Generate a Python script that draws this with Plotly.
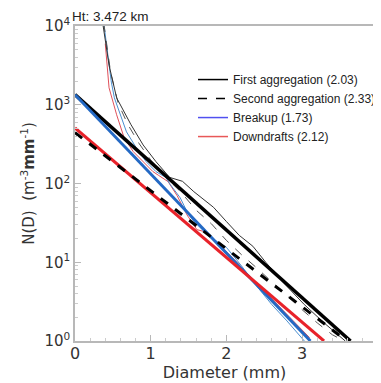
import plotly.graph_objects as go

# ---- data (diameter in mm, N(D) in m^-3 mm^-1) ----
fit_first_d = [0.0, 3.64]
fit_first_n = [1350, 1.0]
fit_second_d = [0.0, 3.59]
fit_second_n = [445, 1.0]
fit_breakup_d = [0.0, 3.11]
fit_breakup_n = [1350, 1.0]
fit_down_d = [0.0, 3.29]
fit_down_n = [510, 1.0]

obs_first_d = [0.36, 0.45, 0.55, 0.65, 0.74, 0.90, 1.07, 1.25, 1.42, 1.57, 1.83, 2.0, 2.17, 2.35, 2.52, 2.77, 3.03, 3.29, 3.57]
obs_first_n = [12000, 3200, 1230, 810, 560, 310, 190, 120, 107, 79, 50, 33, 22, 16, 10, 5.3, 2.9, 1.7, 1.0]

obs_second_d = [0.38, 0.47, 0.57, 0.70, 0.85, 1.0, 1.2, 1.4, 1.6, 1.8, 2.0, 2.2, 2.4, 2.6, 2.8, 3.0, 3.2, 3.4, 3.6]
obs_second_n = [11000, 2600, 1050, 560, 320, 200, 120, 78, 46, 31, 19, 12.5, 8.5, 5.6, 3.7, 2.5, 1.7, 1.2, 0.95]

obs_break_d = [0.38, 0.48, 0.52, 0.68, 0.81, 0.94, 1.07, 1.20, 1.26, 1.39, 1.48, 1.57, 1.70, 1.87, 2.0, 2.2, 2.4, 2.6, 2.8, 3.03]
obs_break_n = [11000, 1950, 1230, 455, 285, 190, 142, 120, 97, 66, 44, 33, 25, 18.5, 15.5, 9.0, 5.0, 2.9, 1.8, 1.0]

obs_down_d = [0.40, 0.45, 0.55, 0.65, 0.77, 0.90, 1.03, 1.10, 1.23, 1.35, 1.48, 1.61, 1.75, 1.9, 2.1, 2.3, 2.5, 2.7, 2.9, 3.1]
obs_down_n = [6000, 1650, 750, 380, 255, 190, 142, 128, 106, 70, 40, 26, 24, 17, 11, 6.8, 4.3, 2.7, 1.7, 1.1]

y_tick_vals = [1, 10, 100, 1000, 10000]
y_tick_text = ["10<sup>0</sup>", "10<sup>1</sup>", "10<sup>2</sup>", "10<sup>3</sup>", "10<sup>4</sup>"]
x_tick_vals = [0, 1, 2, 3]
x_tick_text = ["0", "1", "2", "3"]

legend_labels = ["First aggregation (2.03)", "Second aggregation (2.33)",
                 "Breakup (1.73)", "Downdrafts (2.12)"]

fig = go.Figure()

# observed (thin) lines
fig.add_trace(go.Scatter(x=obs_down_d, y=obs_down_n, mode="lines",
                         line=dict(color="#e0505a", width=1), showlegend=False))
fig.add_trace(go.Scatter(x=obs_break_d, y=obs_break_n, mode="lines",
                         line=dict(color="#4a8fd0", width=1), showlegend=False))
fig.add_trace(go.Scatter(x=obs_second_d, y=obs_second_n, mode="lines",
                         line=dict(color="#555555", width=1, dash="dash"), showlegend=False))
fig.add_trace(go.Scatter(x=obs_first_d, y=obs_first_n, mode="lines",
                         line=dict(color="#333333", width=1), showlegend=False))

# fits (thick)
fig.add_trace(go.Scatter(x=fit_first_d, y=fit_first_n, mode="lines",
                         line=dict(color="#000000", width=3.5), showlegend=False))
fig.add_trace(go.Scatter(x=fit_breakup_d, y=fit_breakup_n, mode="lines",
                         line=dict(color="#2469c4", width=3), showlegend=False))
fig.add_trace(go.Scatter(x=fit_down_d, y=fit_down_n, mode="lines",
                         line=dict(color="#e8222a", width=3), showlegend=False))
fig.add_trace(go.Scatter(x=fit_second_d, y=fit_second_n, mode="lines",
                         line=dict(color="#000000", width=3, dash="dash"), showlegend=False))

# legend entries
leg_styles = [dict(color="#000000", width=1.5),
              dict(color="#000000", width=1.5, dash="dash"),
              dict(color="#5050f0", width=1.5),
              dict(color="#e85858", width=1.5)]
for lab, st in zip(legend_labels, leg_styles):
    fig.add_trace(go.Scatter(x=[None], y=[None], mode="lines", line=st, name=lab))

axis_common = dict(showline=True, linecolor="#b8b8b8", linewidth=1.5, mirror=True,
                   ticks="inside", tickcolor="#b8b8b8", ticklen=6, showgrid=False,
                   zeroline=False, automargin=False)

fig.update_xaxes(range=[0, 3.95], tickmode="array", tickvals=x_tick_vals, ticktext=x_tick_text,
                 ticklabelstandoff=-3,
                 minor=dict(ticks="inside", ticklen=3, tickcolor="#cccccc", dtick=0.2, tick0=0),
                 title=dict(text="Diameter (mm)", font=dict(family="DejaVu Sans", size=16, color="#333333"), standoff=3),
                 tickfont=dict(family="DejaVu Sans", size=16, color="#333333"),
                 **axis_common)
fig.update_yaxes(type="log", range=[0, 4.003], tickmode="array", tickvals=y_tick_vals, ticktext=y_tick_text,
                 minor=dict(ticks="inside", ticklen=3, tickcolor="#cccccc",
                            tickvals=[v * m for v in y_tick_vals[:-1] for m in range(2, 10)]),
                 title=dict(text="N(D)  (m<sup>-3</sup><b>mm</b><sup>-1</sup>)",
                            font=dict(family="DejaVu Sans", size=15, color="#333333"), standoff=6),
                 tickfont=dict(family="DejaVu Sans", size=15, color="#333333"),
                 **axis_common)

fig.update_layout(
    width=373, height=375,
    margin=dict(l=67, r=0, t=18, b=42),
    paper_bgcolor="white", plot_bgcolor="white",
    showlegend=True,
    legend=dict(x=0.395, y=0.876, xanchor="left", yanchor="top",
                bgcolor="rgba(0,0,0,0)", tracegroupgap=0,
                font=dict(family="Liberation Sans", size=12, color="#222222")),
)
fig.add_annotation(text="Ht: 3.472 km", xref="paper", yref="paper",
                   x=-0.015, y=1.0 + 18 / 315, xanchor="left", yanchor="top",
                   borderpad=0, yshift=0,
                   showarrow=False, font=dict(family="Liberation Sans", size=13.5, color="#222222"))

fig.write_html("out.html")
